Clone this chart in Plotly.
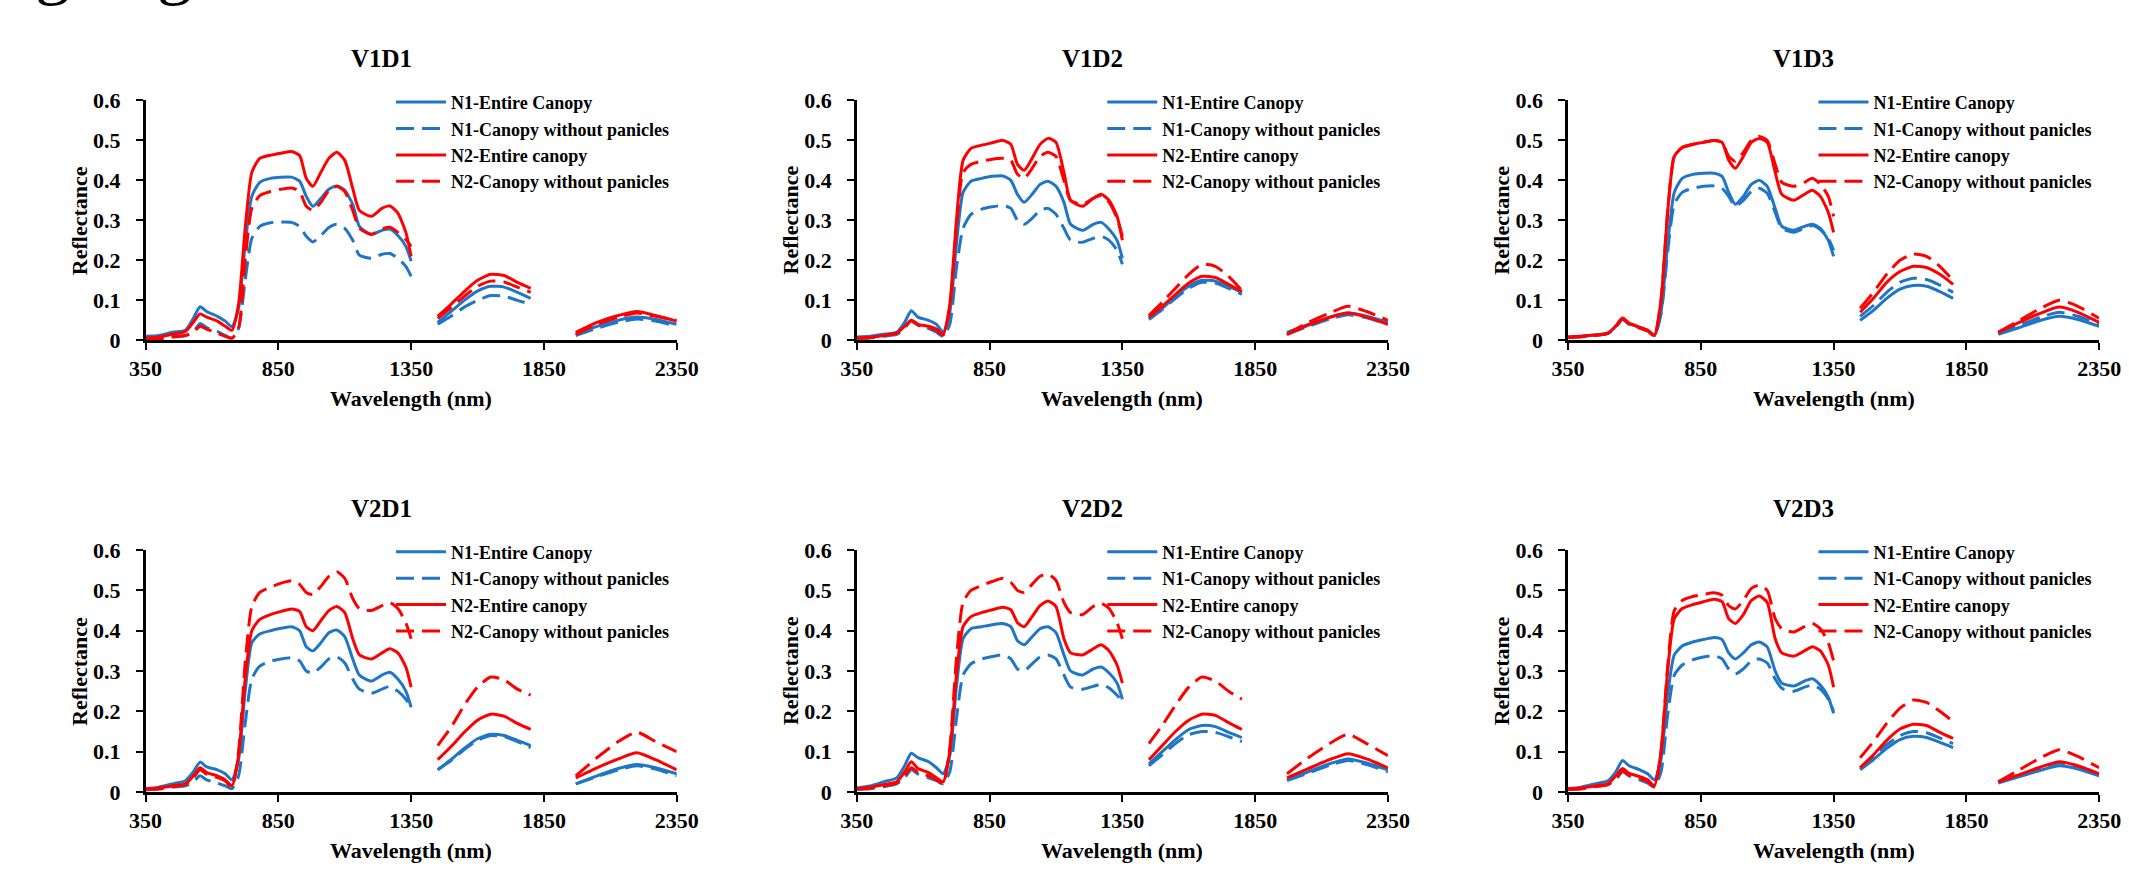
import plotly.graph_objects as go

# ---------------- data ----------------
WL_SEG1 = [350, 400, 450, 500, 530, 555, 580, 620, 650, 675,
           700, 725, 750, 780, 820, 860, 900, 930, 955, 980, 1010, 1040,
           1070, 1100, 1130, 1155, 1200, 1240, 1270, 1300, 1330, 1350]
WL_SEG2 = [1450, 1500, 1550, 1600, 1650, 1700, 1750, 1800]
WL_SEG3 = [1970, 2050, 2130, 2200, 2270, 2350]

PANELS = ["V1D1", "V1D2", "V1D3", "V2D1", "V2D2", "V2D3"]
SERIES = ["N1-Entire Canopy", "N1-Canopy without panicles",
          "N2-Entire canopy", "N2-Canopy without panicles"]
X_TICKS = [350, 850, 1350, 1850, 2350]
Y_TICKS = [0, 0.1, 0.2, 0.3, 0.4, 0.5, 0.6]
X_LABEL = "Wavelength (nm)"
Y_LABEL = "Reflectance"

# each series: seg1 (32 values) + seg2 (8) + seg3 (6)
V1D1_N1E = [0.010, 0.012, 0.020, 0.025, 0.055, 0.084, 0.072, 0.060, 0.048, 0.034,
            0.08, 0.24, 0.36, 0.395, 0.405, 0.408, 0.408, 0.398, 0.36, 0.335, 0.355, 0.378,
            0.386, 0.375, 0.34, 0.285, 0.265, 0.275, 0.278, 0.262, 0.235, 0.198,
            0.045, 0.072, 0.10, 0.123, 0.135, 0.133, 0.12, 0.105,
            0.015, 0.035, 0.05, 0.058, 0.052, 0.04]
V1D1_N1W = [0.005, 0.006, 0.010, 0.012, 0.022, 0.042, 0.032, 0.022, 0.012, 0.006,
            0.03, 0.15, 0.255, 0.285, 0.294, 0.296, 0.295, 0.285, 0.26, 0.246, 0.262, 0.282,
            0.29, 0.28, 0.25, 0.213, 0.205, 0.215, 0.217, 0.205, 0.185, 0.16,
            0.04, 0.06, 0.083, 0.10, 0.112, 0.11, 0.10, 0.09,
            0.012, 0.03, 0.045, 0.053, 0.048, 0.035]
V1D1_N2E = [0.005, 0.008, 0.015, 0.022, 0.045, 0.066, 0.058, 0.048, 0.035, 0.025,
            0.09, 0.28, 0.42, 0.455, 0.463, 0.468, 0.472, 0.462, 0.405, 0.385, 0.42, 0.455,
            0.47, 0.45, 0.38, 0.325, 0.31, 0.33, 0.336, 0.318, 0.27, 0.21,
            0.06, 0.09, 0.122, 0.15, 0.165, 0.162, 0.145, 0.13,
            0.02, 0.045, 0.062, 0.072, 0.062, 0.048]
V1D1_N2W = [0.002, 0.003, 0.008, 0.012, 0.020, 0.035, 0.028, 0.018, 0.010, 0.005,
            0.03, 0.2, 0.33, 0.362, 0.372, 0.378, 0.381, 0.372, 0.335, 0.325, 0.345, 0.375,
            0.385, 0.372, 0.325, 0.28, 0.265, 0.278, 0.283, 0.27, 0.252, 0.235,
            0.055, 0.082, 0.11, 0.135, 0.148, 0.146, 0.133, 0.12,
            0.015, 0.04, 0.058, 0.068, 0.06, 0.05]

V1D2_N1E = [0.008, 0.010, 0.015, 0.020, 0.045, 0.074, 0.058, 0.050, 0.040, 0.020,
            0.07, 0.24, 0.37, 0.398, 0.405, 0.41, 0.411, 0.4, 0.365, 0.345, 0.365, 0.39,
            0.398, 0.385, 0.345, 0.29, 0.275, 0.29, 0.295, 0.278, 0.25, 0.205,
            0.055, 0.08, 0.11, 0.135, 0.15, 0.148, 0.135, 0.12,
            0.02, 0.04, 0.058, 0.068, 0.06, 0.045]
V1D2_N1W = [0.005, 0.006, 0.010, 0.015, 0.030, 0.050, 0.040, 0.030, 0.020, 0.010,
            0.04, 0.18, 0.28, 0.315, 0.328, 0.334, 0.337, 0.33, 0.3, 0.29, 0.305, 0.325,
            0.33, 0.315, 0.28, 0.25, 0.245, 0.255, 0.26, 0.25, 0.225, 0.19,
            0.052, 0.077, 0.105, 0.13, 0.145, 0.143, 0.13, 0.115,
            0.015, 0.035, 0.053, 0.064, 0.056, 0.04]
V1D2_N2E = [0.005, 0.007, 0.012, 0.018, 0.035, 0.050, 0.040, 0.035, 0.028, 0.015,
            0.09, 0.3, 0.45, 0.48, 0.488, 0.494, 0.5, 0.49, 0.44, 0.425, 0.455, 0.49,
            0.505, 0.495, 0.42, 0.35, 0.335, 0.355, 0.365, 0.35, 0.31, 0.25,
            0.058, 0.085, 0.115, 0.143, 0.16, 0.157, 0.14, 0.122,
            0.015, 0.038, 0.057, 0.068, 0.058, 0.04]
V1D2_N2W = [0.005, 0.007, 0.012, 0.018, 0.033, 0.048, 0.038, 0.032, 0.025, 0.013,
            0.08, 0.28, 0.42, 0.44, 0.448, 0.453, 0.455, 0.45, 0.415, 0.405, 0.43, 0.46,
            0.47, 0.46, 0.4, 0.35, 0.34, 0.355, 0.362, 0.345, 0.305, 0.26,
            0.062, 0.095, 0.13, 0.165, 0.19, 0.185, 0.16, 0.125,
            0.015, 0.045, 0.068, 0.085, 0.072, 0.05]

V1D3_N1E = [0.008, 0.010, 0.013, 0.018, 0.035, 0.055, 0.042, 0.032, 0.025, 0.012,
            0.07, 0.24, 0.37, 0.405, 0.415, 0.418, 0.418, 0.41, 0.37, 0.34, 0.36, 0.39,
            0.4, 0.385, 0.33, 0.285, 0.275, 0.285, 0.29, 0.28, 0.25, 0.21,
            0.05, 0.075, 0.105, 0.128, 0.137, 0.135, 0.122, 0.105,
            0.015, 0.032, 0.05, 0.06, 0.052, 0.035]
V1D3_N1W = [0.007, 0.009, 0.012, 0.017, 0.033, 0.052, 0.040, 0.030, 0.023, 0.011,
            0.065, 0.22, 0.34, 0.37, 0.38, 0.385, 0.386, 0.38, 0.36, 0.335, 0.35, 0.372,
            0.38, 0.368, 0.32, 0.28, 0.27, 0.28, 0.287, 0.277, 0.255, 0.225,
            0.06, 0.087, 0.12, 0.145, 0.155, 0.152, 0.138, 0.12,
            0.018, 0.038, 0.058, 0.07, 0.06, 0.04]
V1D3_N2E = [0.008, 0.010, 0.013, 0.018, 0.036, 0.056, 0.043, 0.033, 0.025, 0.012,
            0.1, 0.32, 0.46, 0.482, 0.49, 0.495, 0.5, 0.495, 0.45, 0.43, 0.46, 0.495,
            0.505, 0.495, 0.42, 0.365, 0.35, 0.365, 0.375, 0.36, 0.32, 0.27,
            0.07, 0.105, 0.145, 0.172, 0.185, 0.182, 0.165, 0.14,
            0.02, 0.045, 0.068, 0.083, 0.07, 0.045]
V1D3_N2W = [0.007, 0.009, 0.012, 0.017, 0.034, 0.054, 0.041, 0.031, 0.024, 0.011,
            0.1, 0.32, 0.46, 0.482, 0.49, 0.495, 0.5, 0.495, 0.46, 0.448, 0.47, 0.5,
            0.51, 0.5, 0.44, 0.395, 0.385, 0.395, 0.405, 0.39, 0.36, 0.31,
            0.08, 0.12, 0.165, 0.2, 0.216, 0.21, 0.185, 0.15,
            0.02, 0.05, 0.08, 0.1, 0.085, 0.055]

V2D1_N1E = [0.008, 0.012, 0.020, 0.028, 0.050, 0.074, 0.062, 0.055, 0.045, 0.030,
            0.08, 0.25, 0.37, 0.392, 0.4, 0.406, 0.41, 0.4, 0.36, 0.35, 0.37, 0.395,
            0.402, 0.385, 0.33, 0.29, 0.275, 0.29, 0.297, 0.28, 0.25, 0.21,
            0.055, 0.08, 0.108, 0.132, 0.143, 0.14, 0.128, 0.115,
            0.02, 0.04, 0.058, 0.068, 0.06, 0.045]
V2D1_N1W = [0.005, 0.007, 0.012, 0.015, 0.025, 0.040, 0.030, 0.022, 0.015, 0.008,
            0.04, 0.17, 0.28, 0.312, 0.324, 0.33, 0.333, 0.325, 0.3, 0.295, 0.31, 0.33,
            0.335, 0.32, 0.28, 0.255, 0.245, 0.255, 0.262, 0.25, 0.23, 0.21,
            0.055, 0.078, 0.105, 0.128, 0.14, 0.137, 0.125, 0.11,
            0.02, 0.038, 0.055, 0.065, 0.057, 0.04]
V2D1_N2E = [0.008, 0.010, 0.015, 0.020, 0.040, 0.060, 0.048, 0.040, 0.030, 0.015,
            0.09, 0.28, 0.4, 0.428, 0.44, 0.448, 0.454, 0.448, 0.41, 0.4, 0.425, 0.45,
            0.46, 0.445, 0.38, 0.34, 0.33, 0.345, 0.355, 0.345, 0.31, 0.26,
            0.08, 0.112, 0.148, 0.178, 0.193, 0.188, 0.17, 0.155,
            0.035, 0.06, 0.082, 0.097, 0.08, 0.055]
V2D1_N2W = [0.006, 0.008, 0.013, 0.018, 0.035, 0.055, 0.044, 0.036, 0.027, 0.012,
            0.1, 0.32, 0.46, 0.495, 0.508, 0.518, 0.524, 0.515, 0.495, 0.49, 0.51, 0.535,
            0.546, 0.53, 0.48, 0.455, 0.45, 0.462, 0.47, 0.455, 0.42, 0.38,
            0.115, 0.16, 0.215, 0.26, 0.285, 0.278, 0.255, 0.24,
            0.04, 0.085, 0.125, 0.148, 0.125, 0.1]

V2D2_N1E = [0.010, 0.015, 0.025, 0.035, 0.065, 0.096, 0.085, 0.075, 0.060, 0.045,
            0.09, 0.26, 0.38, 0.405, 0.41, 0.415, 0.418, 0.41, 0.375, 0.365, 0.385, 0.405,
            0.41, 0.395, 0.34, 0.3, 0.29, 0.305, 0.31, 0.295, 0.27, 0.23,
            0.07, 0.1, 0.13, 0.155, 0.165, 0.162, 0.148, 0.135,
            0.03, 0.05, 0.07, 0.082, 0.072, 0.055]
V2D2_N1W = [0.006, 0.008, 0.013, 0.020, 0.035, 0.055, 0.045, 0.035, 0.028, 0.020,
            0.05, 0.18, 0.29, 0.318, 0.33, 0.336, 0.34, 0.33, 0.305, 0.3, 0.318, 0.335,
            0.34, 0.33, 0.29, 0.26, 0.255, 0.262, 0.267, 0.258, 0.24, 0.225,
            0.065, 0.092, 0.12, 0.142, 0.15, 0.148, 0.137, 0.125,
            0.028, 0.047, 0.066, 0.078, 0.068, 0.05]
V2D2_N2E = [0.008, 0.012, 0.018, 0.025, 0.050, 0.075, 0.058, 0.048, 0.035, 0.025,
            0.1, 0.29, 0.41, 0.435, 0.445, 0.452, 0.458, 0.452, 0.42, 0.41, 0.435, 0.462,
            0.474, 0.46, 0.38, 0.345, 0.34, 0.355, 0.365, 0.35, 0.315, 0.27,
            0.08, 0.115, 0.15, 0.178, 0.193, 0.19, 0.172, 0.155,
            0.035, 0.058, 0.08, 0.095, 0.082, 0.06]
V2D2_N2W = [0.007, 0.010, 0.015, 0.022, 0.040, 0.060, 0.048, 0.040, 0.030, 0.020,
            0.11, 0.33, 0.47, 0.5, 0.512, 0.522, 0.53, 0.52, 0.5, 0.495, 0.515, 0.535,
            0.54, 0.525, 0.47, 0.445, 0.44, 0.46, 0.468, 0.455, 0.42, 0.38,
            0.12, 0.165, 0.215, 0.26, 0.285, 0.275, 0.25, 0.23,
            0.045, 0.085, 0.12, 0.143, 0.12, 0.09]

V2D3_N1E = [0.008, 0.012, 0.020, 0.028, 0.050, 0.078, 0.065, 0.055, 0.045, 0.030,
            0.08, 0.24, 0.34, 0.362, 0.372, 0.378, 0.383, 0.378, 0.345, 0.33, 0.345, 0.365,
            0.372, 0.36, 0.3, 0.27, 0.263, 0.275, 0.281, 0.265, 0.235, 0.195,
            0.055, 0.08, 0.108, 0.13, 0.138, 0.135, 0.123, 0.11,
            0.022, 0.038, 0.054, 0.065, 0.057, 0.04]
V2D3_N1W = [0.006, 0.008, 0.013, 0.018, 0.030, 0.050, 0.040, 0.030, 0.022, 0.012,
            0.05, 0.19, 0.29, 0.315, 0.328, 0.335, 0.338, 0.33, 0.305, 0.293, 0.305, 0.325,
            0.33, 0.32, 0.28, 0.257, 0.25, 0.26, 0.265, 0.255, 0.23, 0.2,
            0.06, 0.087, 0.117, 0.14, 0.15, 0.147, 0.134, 0.12,
            0.025, 0.042, 0.06, 0.072, 0.062, 0.045]
V2D3_N2E = [0.008, 0.010, 0.015, 0.020, 0.040, 0.058, 0.046, 0.038, 0.030, 0.015,
            0.1, 0.3, 0.43, 0.455, 0.465, 0.472, 0.478, 0.472, 0.43, 0.418, 0.44, 0.475,
            0.486, 0.47, 0.38, 0.345, 0.337, 0.35, 0.36, 0.35, 0.315, 0.26,
            0.06, 0.092, 0.128, 0.156, 0.168, 0.165, 0.148, 0.133,
            0.025, 0.043, 0.062, 0.075, 0.065, 0.045]
V2D3_N2W = [0.006, 0.008, 0.013, 0.018, 0.035, 0.052, 0.042, 0.034, 0.026, 0.012,
            0.1, 0.31, 0.45, 0.475, 0.485, 0.49, 0.494, 0.488, 0.462, 0.454, 0.475, 0.505,
            0.513, 0.5, 0.43, 0.405, 0.397, 0.41, 0.418, 0.405, 0.37, 0.325,
            0.085, 0.125, 0.17, 0.208, 0.228, 0.222, 0.2, 0.175,
            0.025, 0.055, 0.085, 0.105, 0.088, 0.06]

PANEL_DATA = {
    "V1D1": [V1D1_N1E, V1D1_N1W, V1D1_N2E, V1D1_N2W],
    "V1D2": [V1D2_N1E, V1D2_N1W, V1D2_N2E, V1D2_N2W],
    "V1D3": [V1D3_N1E, V1D3_N1W, V1D3_N2E, V1D3_N2W],
    "V2D1": [V2D1_N1E, V2D1_N1W, V2D1_N2E, V2D1_N2W],
    "V2D2": [V2D2_N1E, V2D2_N1W, V2D2_N2E, V2D2_N2W],
    "V2D3": [V2D3_N1E, V2D3_N1W, V2D3_N2E, V2D3_N2W],
}

# ---------------- styling ----------------
W, H = 2129, 871
FONT = "Liberation Serif, Times New Roman, serif"
BLUE = "#1F76C6"
RED = "#FF0000"
STYLES = [(BLUE, "solid"), (BLUE, "18px,8px"), (RED, "solid"), (RED, "18px,8px")]

AX_LEFT = [131, 855.5, 1580]      # pixel x of y-axis
AX_W = 541                        # pixel width of plot area
ROW_TOP = [91, 554]               # pixel y of 0.6
ROW_BOT = [338, 803]              # pixel y of 0

def fx(p):
    return p / W

def fy(p):
    return 1 - p / H

n1 = len(WL_SEG1)
n2 = len(WL_SEG2)
X_ALL = WL_SEG1 + [None] + WL_SEG2 + [None] + WL_SEG3

def with_gaps(vals):
    return vals[:n1] + [None] + vals[n1:n1 + n2] + [None] + vals[n1 + n2:]

fig = go.Figure()
annotations = []
for i, name in enumerate(PANELS):
    row, col = divmod(i, 3)
    k = i + 1
    xa = "x" if k == 1 else f"x{k}"
    ya = "y" if k == 1 else f"y{k}"
    lg = "legend" if k == 1 else f"legend{k}"
    for s, (vals, (color, dash)) in enumerate(zip(PANEL_DATA[name], STYLES)):
        fig.add_trace(go.Scatter(
            x=X_ALL, y=with_gaps(vals), mode="lines", name=SERIES[s],
            line=dict(color=color, width=3, dash=dash, shape="spline", smoothing=0.6),
            connectgaps=False, xaxis=xa, yaxis=ya, legend=lg,
        ))
    left = AX_LEFT[col]
    top, bot = ROW_TOP[row], ROW_BOT[row]
    axis_common = dict(showline=True, linecolor="black", linewidth=2.5,
                       ticks="outside", ticklen=7, tickwidth=2, tickcolor="black",
                       showgrid=False, zeroline=False, fixedrange=True,
                       tickfont=dict(family=FONT, size=22, color="black", weight="bold"))
    fig.layout[("xaxis" if k == 1 else f"xaxis{k}")] = dict(
        domain=[fx(left), fx(left + AX_W)], range=[350, 2350],
        tickvals=X_TICKS, anchor=ya, **axis_common)
    fig.layout[("yaxis" if k == 1 else f"yaxis{k}")] = dict(
        domain=[fy(bot), fy(top)], range=[0, 0.6],
        tickvals=Y_TICKS, ticktext=[f"{v:g}" for v in Y_TICKS], anchor=xa,
        ticklabelstandoff=11, **axis_common)
    fig.layout[lg] = dict(
        x=fx(left + 250), y=fy(top - 17), xanchor="left", yanchor="top",
        bgcolor="rgba(0,0,0,0)", borderwidth=0, tracegroupgap=0,
        itemwidth=50, font=dict(family=FONT, size=18, color="black", weight="bold"))
    # panel title
    annotations.append(dict(text=f"<b>{name}</b>", x=fx(left + 240), y=fy(top - 43),
                            xref="paper", yref="paper", showarrow=False,
                            xanchor="center", yanchor="middle",
                            font=dict(family=FONT, size=25, color="black")))
    # x-axis title
    annotations.append(dict(text=f"<b>{X_LABEL}</b>", x=fx(left + AX_W / 2), y=fy(bot + 60),
                            xref="paper", yref="paper", showarrow=False,
                            xanchor="center", yanchor="middle",
                            font=dict(family=FONT, size=22, color="black")))
    # y-axis title
    annotations.append(dict(text=f"<b>{Y_LABEL}</b>", x=fx(left - 68), y=fy((top + bot) / 2),
                            xref="paper", yref="paper", showarrow=False, textangle=-90,
                            xanchor="center", yanchor="middle",
                            font=dict(family=FONT, size=22, color="black")))

# partially cropped heading text at the very top (only descenders visible)
for gx in (36, 160):
    annotations.append(dict(text="g", x=fx(gx), y=fy(-4), xref="paper", yref="paper",
                            showarrow=False, xanchor="center", yanchor="bottom",
                            font=dict(family=FONT, size=70, color="black")))

fig.update_layout(
    width=W, height=H, margin=dict(l=0, r=0, t=0, b=0),
    paper_bgcolor="white", plot_bgcolor="white",
    annotations=annotations, showlegend=True,
)

fig.write_html("out.html", config={"displayModeBar": False})
